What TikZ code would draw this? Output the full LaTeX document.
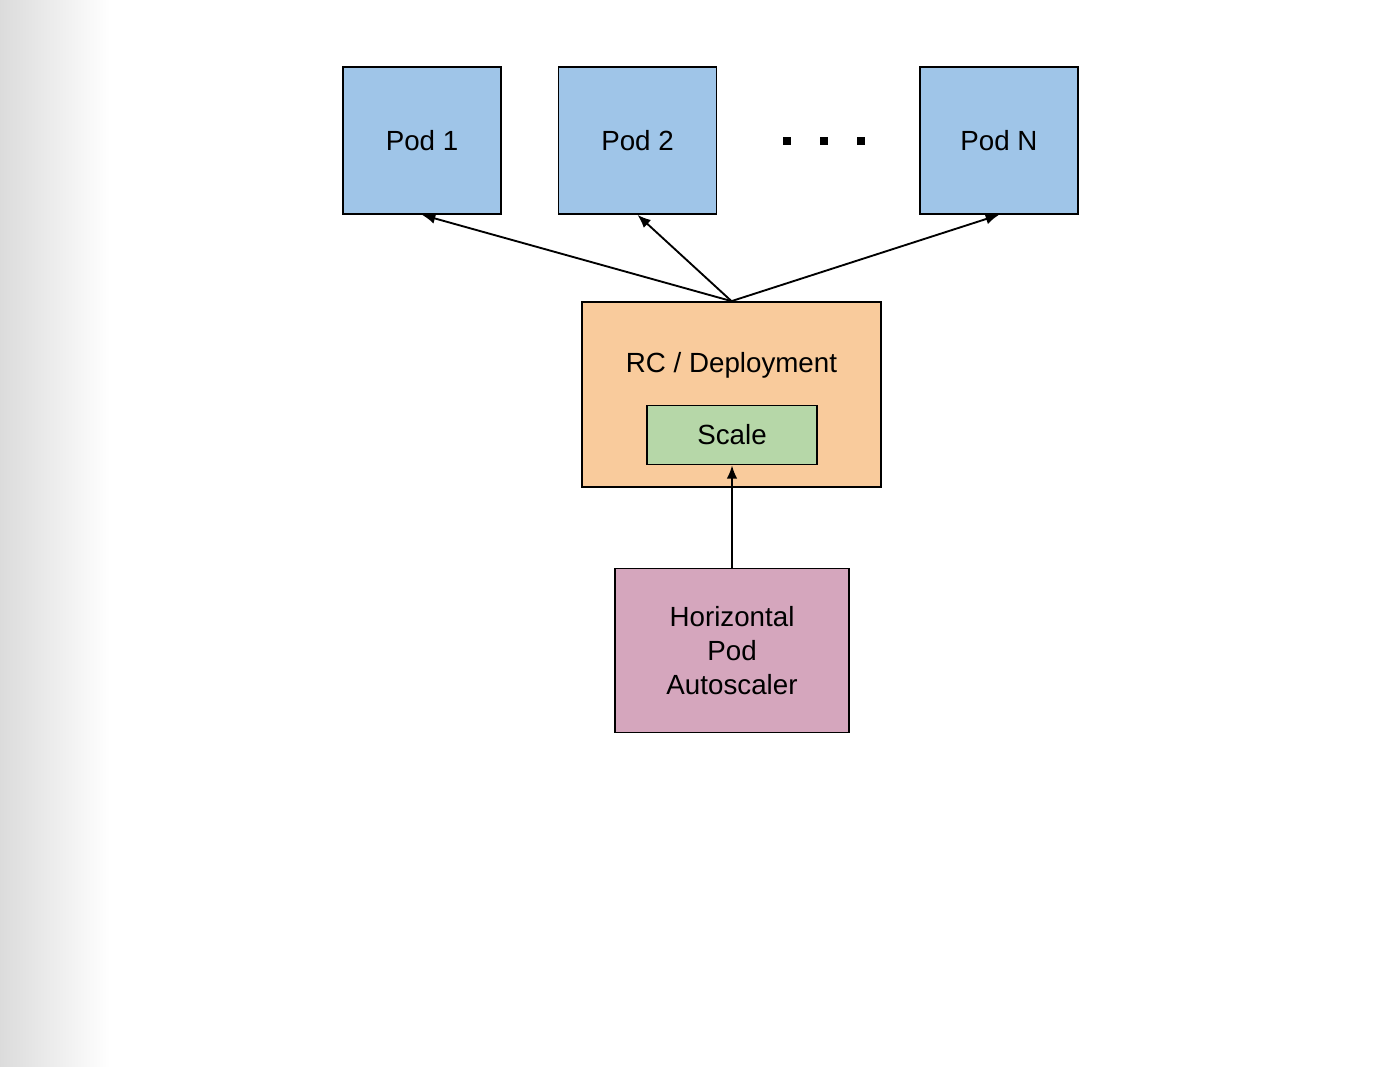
\documentclass[tikz,border=0pt]{standalone}
\usepackage{fontspec}
\setmainfont{Liberation Sans}
\usetikzlibrary{positioning,arrows.meta}
\definecolor{podblue}{HTML}{9FC5E8}
\definecolor{rcorange}{HTML}{F9CB9C}
\definecolor{scalegreen}{HTML}{B6D7A8}
\definecolor{hpapink}{HTML}{D5A6BD}
\newcommand{\BoxText}{\fontsize{20.8}{25.5}\selectfont}
\tikzset{
  every node/.style={font=\BoxText, text=black},
  block/.style 2 args={
    rectangle, draw=black, line width=1.3pt, fill=#1,
    align=center, inner sep=0pt, minimum width=#2
  },
  pod/.style={block={podblue}{118.5pt}, minimum height=110.25pt},
  link/.style={line width=1.4pt, -{Latex[length=10pt,width=8pt]}}
}

\begin{document}
\begin{tikzpicture}[x=0.75pt,y=-0.75pt]

% =========================
% PAGE (size + grey edge on the left)
% =========================
\useasboundingbox (0,0) rectangle (1376,1066);
\shade[left color=black!14, right color=white, draw=none] (0,0) rectangle (110,1066);

% =========================
% PODS
% =========================
\node[pod] (pod1) at (422,140.5)  {Pod 1};
\node[pod] (pod2) at (637.5,140.5) {Pod 2};
\node[pod] (podN) at (999,140.5)  {Pod N};

% dots between Pod 2 and Pod N
\foreach \dx in {787,824,861}{
  \fill[black] (\dx-4,137) rectangle ++(8,8);
}

% =========================
% RC / DEPLOYMENT + SCALE
% =========================
\node[block={rcorange}{224.25pt}, minimum height=138.75pt] (rc) at (731.5,394.5) {};
\node (rclabel) at (731.5,365.5) {RC / Deployment};
\node[block={scalegreen}{127.5pt}, minimum height=44.25pt] (scale) at (732,435) {Scale};

% =========================
% AUTOSCALER
% =========================
\node[block={hpapink}{175.5pt}, minimum height=123pt] (hpa) at (732,650.5) {Horizontal\\Pod\\Autoscaler};

% =========================
% ARROWS
% =========================
\draw[link] (rc.north) -- (pod1.south);
\draw[link] (rc.north) -- (pod2.south);
\draw[link] (rc.north) -- (podN.south);
\draw[link] (hpa.north) -- (scale.south);

\end{tikzpicture}
\end{document}
